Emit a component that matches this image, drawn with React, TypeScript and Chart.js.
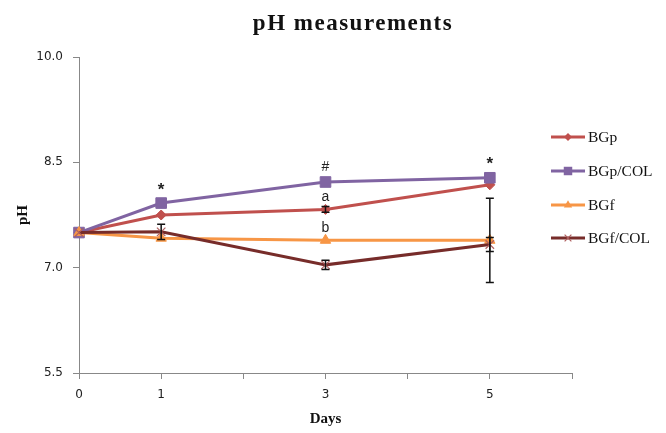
import React, { useEffect, useRef } from 'react';
import { Chart, registerables } from 'chart.js';

Chart.register(...registerables);

// ---- data ----
const days = [0, 1, 3, 5];
const shownDayTicks = [0, 1, 3, 5];
const seriesNames = ['BGp', 'BGp/COL', 'BGf', 'BGf/COL'];
const bgp = [7.5, 7.75, 7.83, 8.18];
const bgpCol = [7.5, 7.92, 8.22, 8.28];
const bgf = [7.5, 7.42, 7.39, 7.39];
const bgfCol = [7.5, 7.51, 7.04, 7.33];
const bgpErr = [0, 0, 0.04, 0];
const bgpColErr = [0, 0, 0, 0];
const bgfErr = [0, 0, 0, 0.6];
const bgfColErr = [0, 0.11, 0.065, 0.1];
const markSeries = [1, 1, 1, 0, 2];
const markDayIndex = [1, 2, 3, 2, 2];
const markText = ['*', '#', '*', 'a', 'b'];

const titleText = 'pH measurements';
const xTitle = 'Days';
const yTitle = 'pH';

const colors = ['#C0504D', '#8064A2', '#F79646', '#772C2A'];
const styles = ['rectRot', 'rect', 'triangle', 'crossRot'];
const radii = [5, 7.5, 6, 6];
const values = [bgp, bgpCol, bgf, bgfCol];
const errors = [bgpErr, bgpColErr, bgfErr, bgfColErr];

function drawMarker(ctx: CanvasRenderingContext2D, style: string, x: number, y: number, r: number, color: string) {
  ctx.save();
  ctx.fillStyle = color;
  ctx.strokeStyle = color;
  ctx.beginPath();
  if (style === 'rectRot') {
    ctx.moveTo(x, y - r); ctx.lineTo(x + r, y); ctx.lineTo(x, y + r); ctx.lineTo(x - r, y); ctx.closePath(); ctx.fill();
  } else if (style === 'rect') {
    const s = r * Math.SQRT1_2;
    ctx.rect(x - s, y - s, 2 * s, 2 * s); ctx.fill();
  } else if (style === 'triangle') {
    ctx.moveTo(x, y - r); ctx.lineTo(x + r * 0.87, y + r * 0.5); ctx.lineTo(x - r * 0.87, y + r * 0.5); ctx.closePath(); ctx.fill();
  } else {
    const s = r * Math.SQRT1_2;
    ctx.lineWidth = 1.2;
    ctx.strokeStyle = '#B06060';
    ctx.moveTo(x - s, y - s); ctx.lineTo(x + s, y + s); ctx.moveTo(x + s, y - s); ctx.lineTo(x - s, y + s); ctx.stroke();
  }
  ctx.restore();
}

const overlayPlugin = {
  id: 'overlay',
  afterDatasetsDraw(chart: any) {
    const ctx: CanvasRenderingContext2D = chart.ctx;
    const xs = chart.scales.x;
    const ys = chart.scales.y;
    // error bars
    ctx.save();
    ctx.strokeStyle = '#111';
    ctx.lineWidth = 1.5;
    errors.forEach((errs, si) => {
      errs.forEach((e, i) => {
        if (!e) return;
        const px = xs.getPixelForValue(days[i]);
        const top = ys.getPixelForValue(values[si][i] + e);
        const bot = ys.getPixelForValue(values[si][i] - e);
        ctx.beginPath();
        ctx.moveTo(px, top); ctx.lineTo(px, bot);
        ctx.moveTo(px - 4, top); ctx.lineTo(px + 4, top);
        ctx.moveTo(px - 4, bot); ctx.lineTo(px + 4, bot);
        ctx.stroke();
      });
    });
    ctx.restore();
    // significance marks
    ctx.save();
    ctx.fillStyle = '#222';
    ctx.textAlign = 'center';
    ctx.textBaseline = 'middle';
    markText.forEach((t, k) => {
      const si = markSeries[k];
      const di = markDayIndex[k];
      const px = xs.getPixelForValue(days[di]);
      const py = ys.getPixelForValue(values[si][di]);
      if (t === 'a' || t === 'b') {
        ctx.font = '14px "Liberation Sans"';
        ctx.fillText(t, px, py - 12);
      } else if (t === '*') {
        ctx.font = 'bold 17px "Liberation Sans"';
        ctx.fillText(t, px, py - 13);
      } else {
        ctx.font = '14px "Liberation Sans"';
        ctx.fillText(t, px, py - 15);
      }
    });
    ctx.restore();
  },
  afterDraw(chart: any) {
    const ctx: CanvasRenderingContext2D = chart.ctx;
    const area = chart.chartArea;
    ctx.save();
    ctx.fillStyle = '#111';
    // title
    ctx.font = 'bold 23px "Liberation Serif"';
    (ctx as any).letterSpacing = '1.5px';
    ctx.textAlign = 'center';
    ctx.textBaseline = 'alphabetic';
    ctx.fillText(titleText, 353, 30);
    (ctx as any).letterSpacing = '0px';
    // x title
    ctx.font = 'bold 15px "Liberation Serif"';
    ctx.textBaseline = 'middle';
    ctx.fillText(xTitle, (area.left + area.right) / 2, 419);
    // y title
    ctx.save();
    ctx.translate(23, (area.top + area.bottom) / 2);
    ctx.rotate(-Math.PI / 2);
    ctx.fillText(yTitle, 0, 0);
    ctx.restore();
    // legend
    ctx.font = '15.5px "Liberation Serif"';
    ctx.textAlign = 'left';
    const ly = [137, 171, 205, 238];
    seriesNames.forEach((n, i) => {
      const y = ly[i];
      ctx.save();
      ctx.strokeStyle = colors[i];
      ctx.lineWidth = 3;
      ctx.beginPath();
      ctx.moveTo(551, y); ctx.lineTo(585, y);
      ctx.stroke();
      ctx.restore();
      drawMarker(ctx, styles[i], 568, y, radii[i] * 0.8, colors[i]);
      ctx.fillStyle = '#111';
      ctx.fillText(n, 588, y + 1);
    });
    ctx.restore();
  },
};

export default function App() {
  const ref = useRef<HTMLCanvasElement>(null);
  useEffect(() => {
    document.body.style.margin = '0';
    const canvas = ref.current!;
    const chart = new Chart(canvas, {
      type: 'line',
      data: {
        datasets: seriesNames.map((name, si) => ({
          label: name,
          data: days.map((d, i) => ({ x: d, y: values[si][i] })),
          borderColor: colors[si],
          backgroundColor: colors[si],
          borderWidth: 3,
          pointStyle: styles[si] as any,
          pointRadius: radii[si],
          pointBackgroundColor: colors[si],
          pointBorderColor: si === 3 ? '#B06060' : colors[si],
          pointBorderWidth: si === 3 ? 1.2 : 1,
          tension: 0,
          clip: false as any,
          order: 4 - si,
        })),
      },
      options: {
        responsive: false,
        animation: false,
        devicePixelRatio: 1,
        layout: { padding: { top: 57, right: 94, left: 0, bottom: 0 } },
        plugins: { legend: { display: false }, title: { display: false }, tooltip: { enabled: false } },
        scales: {
          x: {
            type: 'linear',
            min: 0,
            max: 6,
            afterFit: (s: any) => { s.height = 60; },
            ticks: {
              stepSize: 1,
              autoSkip: false,
              maxRotation: 0,
              padding: 9,
              color: '#222',
              font: { family: 'DejaVu Sans', size: 12 },
              callback: (v: any) => (shownDayTicks.includes(Number(v)) ? String(v) : ''),
            },
            grid: { drawOnChartArea: false, drawTicks: true, tickLength: 6, color: '#888' },
            border: { color: '#888', width: 1 },
          },
          y: {
            min: 5.5,
            max: 10,
            afterFit: (s: any) => { s.width = 79; },
            ticks: {
              stepSize: 1.5,
              padding: 10,
              color: '#222',
              font: { family: 'DejaVu Sans', size: 12 },
              callback: (v: any) => Number(v).toFixed(1),
            },
            grid: { drawOnChartArea: false, drawTicks: true, tickLength: 6, color: '#888' },
            border: { color: '#888', width: 1 },
          },
        },
      },
      plugins: [overlayPlugin],
    });
    return () => chart.destroy();
  }, []);
  return (
    <div style={{ width: 666, height: 433 }}>
      <canvas ref={ref} width={666} height={433} style={{ display: 'block' }} />
    </div>
  );
}
